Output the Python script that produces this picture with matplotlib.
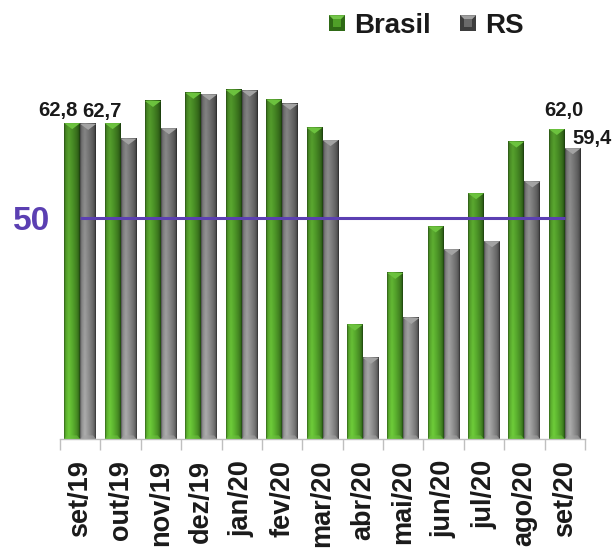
import matplotlib
matplotlib.use("Agg")
import matplotlib.pyplot as plt
import numpy as np
from matplotlib.patches import Polygon, Rectangle
from matplotlib.legend_handler import HandlerBase

plt.rcParams["font.family"] = ["Liberation Sans", "DejaVu Sans"]

months = ["set/19", "out/19", "nov/19", "dez/19", "jan/20", "fev/20", "mar/20",
          "abr/20", "mai/20", "jun/20", "jul/20", "ago/20", "set/20"]
brasil = [62.8, 62.8, 65.8, 66.9, 67.3, 66.0, 62.2, 35.5, 42.5, 48.8, 53.3, 60.3, 62.0]
rs = [62.7, 60.7, 62.1, 66.7, 67.2, 65.4, 60.5, 31.0, 36.4, 45.7, 46.8, 54.9, 59.4]
reference = 50

YMIN, YMAX = 20, 70
BAR_W = 0.396
TEXT = "#1a1a1a"
PURPLE = "#5b3fb2"

# colour stops across the width of a bar (left edge -> right edge)
STOP_POS = [0.0, 0.08, 0.3, 0.55, 0.8, 0.93, 1.0]
GREEN_STOPS = [(0.20, 0.40, 0.10), (0.34, 0.65, 0.17), (0.42, 0.78, 0.22),
               (0.35, 0.68, 0.18), (0.28, 0.55, 0.14), (0.22, 0.45, 0.11),
               (0.12, 0.28, 0.06)]
GRAY_STOPS = [(0.33, 0.33, 0.33), (0.54, 0.54, 0.54), (0.66, 0.66, 0.66),
              (0.56, 0.56, 0.56), (0.45, 0.45, 0.45), (0.36, 0.36, 0.36),
              (0.20, 0.20, 0.20)]
GREEN_TIP = "#6cc23e"
GRAY_TIP = "#a3a3a3"


def profile(stops, n=32):
    t = np.linspace(0, 1, n)
    stops = np.array(stops)
    return np.stack([np.interp(t, STOP_POS, stops[:, c]) for c in range(3)], axis=1)


def draw_bar(ax, x0, value, stops, tip, tip_h):
    ys = np.linspace(value, YMIN, 60)
    shade = 0.74 + 0.30 * (YMAX - ys) / (YMAX - YMIN)
    img = np.clip(profile(stops)[None, :, :] * shade[:, None, None], 0, 1)
    ax.imshow(img, extent=(x0, x0 + BAR_W, YMIN, value), aspect="auto",
              interpolation="bilinear", zorder=2)
    ax.add_patch(Polygon([(x0, value), (x0 + BAR_W, value),
                          (x0 + BAR_W / 2, value - tip_h)],
                         closed=True, facecolor=tip, edgecolor="none", zorder=3))
    # small bevel at the foot of the bar
    foot = tip_h * 0.6
    ax.add_patch(Polygon([(x0, YMIN), (x0 + BAR_W, YMIN),
                          (x0 + BAR_W * 0.8, YMIN + foot), (x0 + BAR_W * 0.2, YMIN + foot)],
                         closed=True, facecolor=tip, alpha=0.6, edgecolor="none", zorder=3))


class Square:
    def __init__(self, dark, mid, light):
        self.dark, self.mid, self.light = dark, mid, light


class SquareHandler(HandlerBase):
    def create_artists(self, legend, orig, xdescent, ydescent, width, height, fontsize, trans):
        s = height
        x0 = -xdescent + (width - s) / 2
        y0 = -ydescent
        inset = s * 0.25
        outer = Rectangle((x0, y0), s, s, facecolor=orig.dark, edgecolor="none", transform=trans)
        top = Polygon([(x0, y0 + s), (x0 + s, y0 + s), (x0 + s - inset, y0 + s - inset),
                       (x0 + inset, y0 + s - inset)], facecolor=orig.light,
                      edgecolor="none", transform=trans)
        inner = Rectangle((x0 + inset, y0 + inset), s - 2 * inset, s - 2 * inset,
                          facecolor=orig.mid, edgecolor="none", transform=trans)
        return [outer, top, inner]


fig = plt.figure(figsize=(6.16, 5.48), dpi=100)
ax = fig.add_axes([60 / 616, 109 / 548, 525 / 616, 369 / 548])

x = np.arange(len(months))
tip_h = 6 / (369 / (YMAX - YMIN))
for i in range(len(months)):
    draw_bar(ax, x[i] - BAR_W, brasil[i], GREEN_STOPS, GREEN_TIP, tip_h)
    draw_bar(ax, x[i], rs[i], GRAY_STOPS, GRAY_TIP, tip_h)

ax.set_xlim(-0.5, len(months) - 0.5)
ax.set_ylim(YMIN, YMAX)

# reference line at 50
ax.plot([x[0], x[-1]], [reference, reference], color=PURPLE, lw=2.2,
        solid_capstyle="butt", zorder=5)
ax.text(-0.75, reference, "50", ha="right", va="center_baseline", color=PURPLE,
        fontsize=24, fontweight="bold", clip_on=False)

# value labels on the first and last months
labels = [
    (0, brasil, -BAR_W / 2, "right", 3.6, 5.3),
    (0, rs, BAR_W / 2, "left", -4.3, 5.3),
    (12, brasil, -BAR_W / 2, "center", 5.0, 9.6),
    (12, rs, BAR_W / 2, "left", 0.0, 3.2),
]
for i, series, dx, ha, ox, oy in labels:
    ax.annotate(f"{series[i]:.1f}".replace(".", ","), (x[i] + dx, series[i]),
                xytext=(ox, oy), textcoords="offset points", ha=ha, va="baseline",
                fontsize=14.5, fontweight="bold", color=TEXT, annotation_clip=False)

for side in ("top", "left", "right"):
    ax.spines[side].set_visible(False)
ax.spines["bottom"].set_color("#bfbfbf")
ax.spines["bottom"].set_linewidth(1)
ax.set_yticks([])

ax.set_xticks(np.arange(-0.5, len(months), 1))
ax.tick_params(axis="x", which="major", length=8, color="#bfbfbf", width=1, labelbottom=False)
ax.set_xticks(x, minor=True)
ax.set_xticklabels(months, minor=True, rotation=90, fontsize=19.5,
                   fontweight="bold", color=TEXT)
ax.tick_params(axis="x", which="minor", length=0, pad=15)

handles = [Square("#2f6a16", "#4f9f28", "#74c64a"), Square("#3d3d3d", "#6a6a6a", "#a0a0a0")]
fig.legend(handles, ["Brasil", "RS"], handler_map={Square: SquareHandler()},
           loc="center", bbox_to_anchor=(0.693, 0.9526), ncol=2, frameon=False,
           prop={"size": 20, "weight": "bold"}, labelcolor=TEXT,
           handlelength=0.5, handleheight=0.5, handletextpad=0.36,
           columnspacing=1.1, borderpad=0)

fig.savefig("out.png", dpi=100)
